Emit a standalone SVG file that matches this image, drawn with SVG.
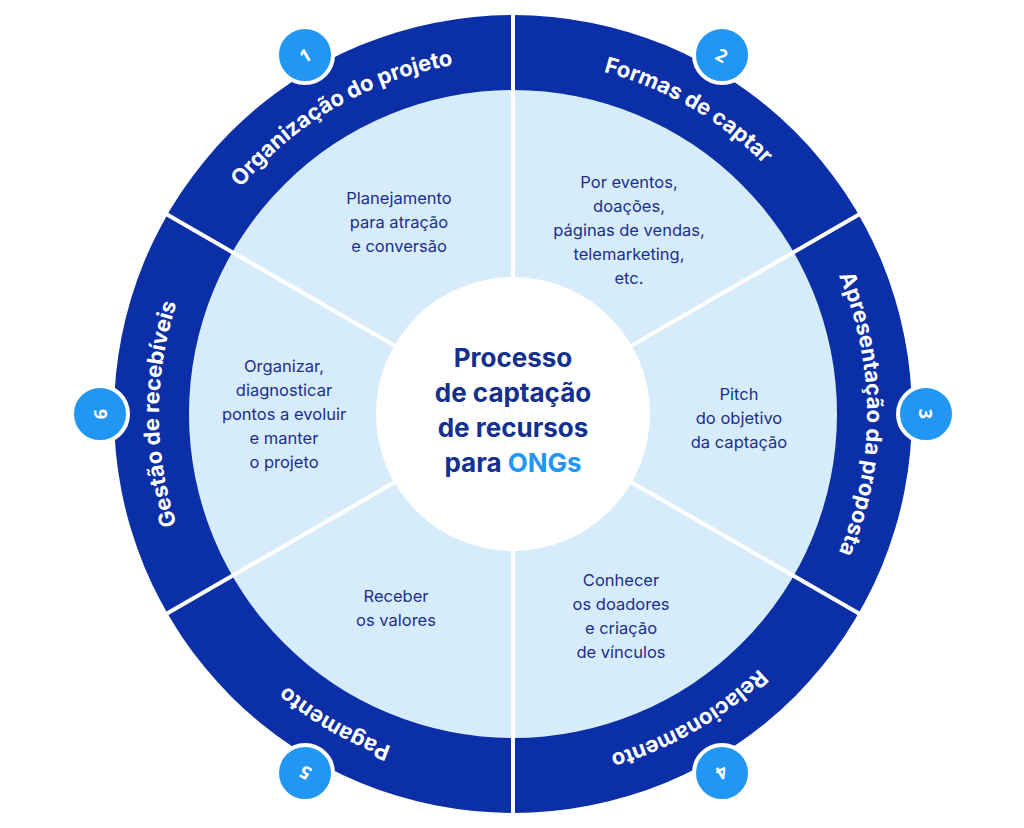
<svg xmlns="http://www.w3.org/2000/svg" xmlns:xlink="http://www.w3.org/1999/xlink" width="1024" height="828" viewBox="0 0 1024 828">
<style>
.ring{font-family:Inter,"Open Sans",sans-serif;font-weight:700;font-size:22px;fill:#fff}
.sec{font-family:Inter,"Open Sans",sans-serif;font-size:16.5px;fill:#1b2f8c;text-anchor:middle}
.ctr{font-family:Inter,"Open Sans",sans-serif;font-weight:700;font-size:26px;fill:#14308f;text-anchor:middle}
.badge circle{fill:#2196f3;stroke:#fff;stroke-width:4}
.badge text{font-family:"Open Sans",sans-serif;font-weight:700;font-size:18px;fill:#fff;text-anchor:middle;dominant-baseline:central}
.sep{stroke:#fff;stroke-width:4}
</style>
<defs>
<path id="arc" d="M513,768 A354,354 0 1 1 513,60 A354,354 0 1 1 513,768"/>
</defs>
<rect width="1024" height="828" fill="#fff"/>
<circle cx="513" cy="414" r="399" fill="#0b2fa6"/>
<circle cx="513" cy="414" r="324" fill="#d7ecfb"/>
<g id="connectors">
<line class="sep" x1="513" y1="414" x2="513" y2="15"/>
<line class="sep" x1="513" y1="414" x2="513" y2="813"/>
<line class="sep" x1="513" y1="414" x2="859" y2="214.5"/>
<line class="sep" x1="513" y1="414" x2="859" y2="613.5"/>
<line class="sep" x1="513" y1="414" x2="167" y2="214.5"/>
<line class="sep" x1="513" y1="414" x2="167" y2="613.5"/>
</g>
<circle cx="513" cy="414" r="137" fill="#fff"/>
<g id="center"><text class="ctr" x="513" y="367">Processo</text><text class="ctr" x="513" y="402">de captação</text><text class="ctr" x="513" y="437">de recursos</text><text class="ctr" x="513" y="472">para <tspan fill="#2196f3">ONGs</tspan></text></g>
<g id="ring-labels" class="ring">
<text><textPath xlink:href="#arc" startOffset="25%" text-anchor="middle">Gestão de recebíveis</textPath></text>
<text><textPath xlink:href="#arc" startOffset="41.67%" text-anchor="middle">Organização do projeto</textPath></text>
<text><textPath xlink:href="#arc" startOffset="58.33%" text-anchor="middle">Formas de captar</textPath></text>
<text><textPath xlink:href="#arc" startOffset="75%" text-anchor="middle">Apresentação da proposta</textPath></text>
<text><textPath xlink:href="#arc" startOffset="91.67%" text-anchor="middle">Relacionamento</textPath></text>
<text><textPath xlink:href="#arc" startOffset="8.33%" text-anchor="middle">Pagamento</textPath></text>
</g>
<g id="s1"><text class="sec" x="399" y="204">Planejamento</text><text class="sec" x="399" y="228">para atração</text><text class="sec" x="399" y="252">e conversão</text></g>
<g id="s2"><text class="sec" x="629" y="188">Por eventos,</text><text class="sec" x="629" y="212">doações,</text><text class="sec" x="629" y="236">páginas de vendas,</text><text class="sec" x="629" y="260">telemarketing,</text><text class="sec" x="629" y="284">etc.</text></g>
<g id="s3"><text class="sec" x="739" y="400">Pitch</text><text class="sec" x="739" y="424">do objetivo</text><text class="sec" x="739" y="448">da captação</text></g>
<g id="s4"><text class="sec" x="621" y="586">Conhecer</text><text class="sec" x="621" y="610">os doadores</text><text class="sec" x="621" y="634">e criação</text><text class="sec" x="621" y="658">de vínculos</text></g>
<g id="s5"><text class="sec" x="396" y="602">Receber</text><text class="sec" x="396" y="626">os valores</text></g>
<g id="s6"><text class="sec" x="284" y="372">Organizar,</text><text class="sec" x="284" y="396">diagnosticar</text><text class="sec" x="284" y="420">pontos a evoluir</text><text class="sec" x="284" y="444">e manter</text><text class="sec" x="284" y="468">o projeto</text></g>
<g id="b1" class="badge"><circle cx="305" cy="55" r="28"/><text x="305" y="55" transform="rotate(-30 305 55)">1</text></g>
<g id="b2" class="badge"><circle cx="722" cy="55" r="28"/><text x="722" y="55" transform="rotate(30 722 55)">2</text></g>
<g id="b3" class="badge"><circle cx="926" cy="414" r="28"/><text x="926" y="414" transform="rotate(90 926 414)">3</text></g>
<g id="b4" class="badge"><circle cx="722" cy="773" r="28"/><text x="722" y="773" transform="rotate(150 722 773)">4</text></g>
<g id="b5" class="badge"><circle cx="305" cy="773" r="28"/><text x="305" y="773" transform="rotate(-150 305 773)">5</text></g>
<g id="b6" class="badge"><circle cx="100" cy="414" r="28"/><text x="100" y="414" transform="rotate(-90 100 414)">6</text></g>
</svg>
